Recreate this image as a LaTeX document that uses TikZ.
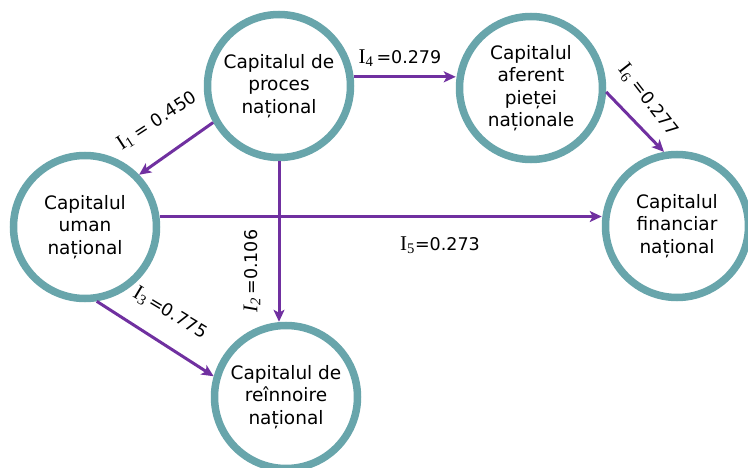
\documentclass[tikz,border=0pt]{standalone}
\usepackage{fontspec}
\setmainfont{DejaVu Sans}
\newfontfamily\serifface{Liberation Serif}
\usetikzlibrary{arrows.meta}
\definecolor{ring}{HTML}{68A5AB}
\definecolor{flow}{HTML}{7030A0}
% index symbol I_k set in a serif face
\newcommand\idx[1]{{\serifface\fontsize{21}{24}\selectfont I\textsubscript{#1}}}
\newcommand\idxit[1]{{\serifface\itshape\fontsize{21}{24}\selectfont I\textsubscript{#1}}}
\tikzset{
  capital/.style={circle, draw=ring, line width=7.5pt, fill=white,
    minimum size=143pt, inner sep=0pt, align=center,
    font=\fontsize{18.5}{22.5}\selectfont},
  flowarrow/.style={draw=flow, line width=3pt,
    -{Stealth[length=12pt,width=11pt,inset=3pt]}},
  coef/.style={font=\fontsize{17.5}{20}\selectfont, inner sep=1pt}
}
\begin{document}
\begin{tikzpicture}[x=1pt,y=-1pt]
\useasboundingbox (0,0) rectangle (748,468);

% capital components
\node[capital] (proc)  at (279,86)  {Capitalul de\\proces\\național};
\node[capital] (piata) at (531,88)  {Capitalul\\aferent\\pieței\\naționale};
\node[capital] (uman)  at (85,227)  {Capitalul\\uman\\național};
\node[capital] (fin)   at (677,226) {Capitalul\\financiar\\național};
\node[capital] (reinn) at (286,397) {Capitalul de\\reînnoire\\național};

% influence links
\draw[flowarrow] (proc.209) -- (uman.44);
\draw[flowarrow] (proc.7) -- (proc.7 -| piata.west);
\draw[flowarrow] (piata.-3) -- (fin.100);
\draw[flowarrow] (uman.8) -- (uman.8 -| fin.west);
\draw[flowarrow] (proc.south) -- (proc.south |- reinn.north);
\draw[flowarrow] (uman.-81) -- (reinn.164);

% link coefficients
\node[coef, rotate=33]  (c1) at (157,121) {\idx{1} = 0.450};
\node[coef]             (c4) at (400,58)  {\idx{4}\,=0.279};
\node[coef, rotate=-52] (c6) at (648,100) {\idx{6} =0.277};
\node[coef]             (c5) at (440,245) {\idx{5}=0.273};
\node[coef, rotate=90]  (c2) at (252,271) {\idxit{2}\,=0.106};
\node[coef, rotate=-31] (c3) at (170,313) {\idx{3}\,=0.775};
\end{tikzpicture}
\end{document}
